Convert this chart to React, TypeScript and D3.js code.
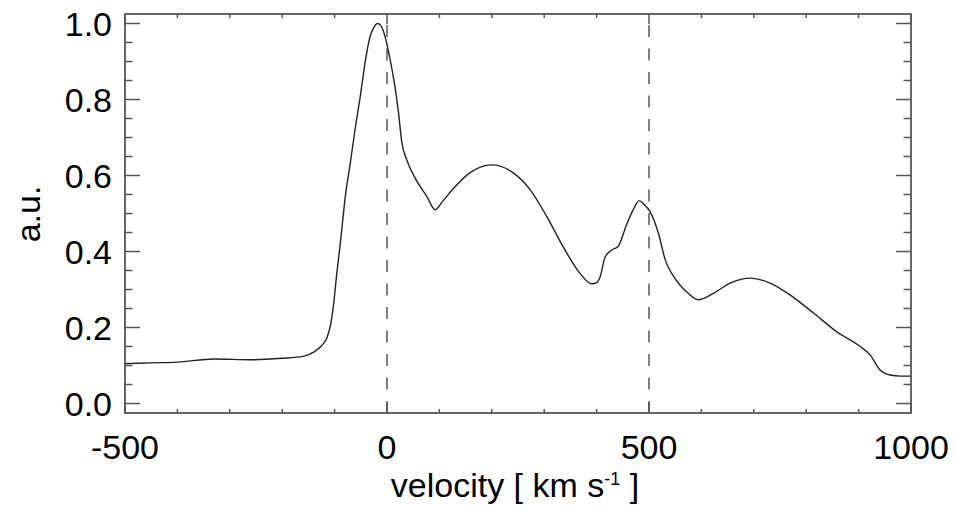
import React, {useEffect, useRef} from "react";
import * as d3 from 'd3';

// velocity (km/s) and normalised flux
const velocity = [
    -500, -450, -400, -330, -260, -200, -160, -140, -125, -115, -108, -102, -96, -90, -85, -80,
    -70, -61, -51, -42, -32, -25, -18, -12, -4, 6, 15, 22, 28, 38, 53, 76, 92, 105, 125, 158,
    200, 241, 273, 305, 336, 368, 391, 400, 407, 416, 429, 441, 457, 470, 481, 490, 502, 518,
    531, 543, 559, 575, 594, 623, 655, 693, 731, 769, 814, 858, 903, 922, 941, 960, 980, 1000
];
const flux = [
    0.105, 0.107, 0.109, 0.117, 0.115, 0.119, 0.124, 0.135, 0.152, 0.172, 0.205, 0.26, 0.34, 0.41, 0.475, 0.54,
    0.633, 0.721, 0.808, 0.896, 0.967, 0.99, 1.0, 0.995, 0.967, 0.905, 0.835, 0.765, 0.69, 0.64, 0.595, 0.545, 0.51, 0.53, 0.563, 0.607,
    0.628, 0.607, 0.563, 0.492, 0.413, 0.343, 0.315, 0.318, 0.334, 0.385, 0.404, 0.413, 0.47, 0.51, 0.534, 0.525, 0.505, 0.448,
    0.378, 0.343, 0.312, 0.29, 0.273, 0.29, 0.317, 0.33, 0.317, 0.286, 0.238, 0.189, 0.15, 0.128, 0.088, 0.075, 0.072, 0.072
];

const xMajor = [-500, 0, 500, 1000];
const yMajor = [0.0, 0.2, 0.4, 0.6, 0.8, 1.0];
const markers = [0, 500];

const App: React.FC = () => {
    const svgRef = useRef<SVGSVGElement | null>(null);

    useEffect(() => {
        if (!svgRef.current) return;
        const W = 955, H = 509;
        const left = 125, right = 911, top = 14, bottom = 413;
        const font = "'Liberation Sans', Arial, Helvetica, sans-serif";
        const frameColor = "#555";

        const svg = d3.select(svgRef.current)
            .attr("width", W)
            .attr("height", H);
        svg.selectAll("*").remove();

        const x = d3.scaleLinear().domain([-500, 1000]).range([left, right]);
        const y = d3.scaleLinear().domain([-0.025, 1.025]).range([bottom, top]);

        // minor / major ticks
        const xMinor = d3.range(-500, 1001, 100).filter(v => !xMajor.includes(v));
        const yMinor = d3.range(0, 21).map(i => i * 0.05).filter(v => Math.round(v * 100) % 20 !== 0);

        const ticks = svg.append("g").attr("stroke", frameColor).attr("stroke-width", 1.5);
        const xt = (vals: number[], len: number) => {
            ticks.selectAll(null).data(vals).enter().append("line")
                .attr("x1", d => x(d)).attr("x2", d => x(d))
                .attr("y1", bottom).attr("y2", bottom - len);
            ticks.selectAll(null).data(vals).enter().append("line")
                .attr("x1", d => x(d)).attr("x2", d => x(d))
                .attr("y1", top).attr("y2", top + len);
        };
        const yt = (vals: number[], len: number) => {
            ticks.selectAll(null).data(vals).enter().append("line")
                .attr("y1", d => y(d)).attr("y2", d => y(d))
                .attr("x1", left).attr("x2", left + len);
            ticks.selectAll(null).data(vals).enter().append("line")
                .attr("y1", d => y(d)).attr("y2", d => y(d))
                .attr("x1", right).attr("x2", right - len);
        };
        xt(xMajor, 10);
        xt(xMinor, 4);
        yt(yMajor, 15);
        yt(yMinor, 7.5);

        // dashed reference lines
        svg.append("g").selectAll("line").data(markers).enter().append("line")
            .attr("x1", d => x(d)).attr("x2", d => x(d))
            .attr("y1", bottom).attr("y2", top)
            .attr("stroke", "#555")
            .attr("stroke-width", 1.5)
            .attr("stroke-dasharray", "12,11.5");

        // profile
        const pts = velocity.map((v, i) => [v, flux[i]] as [number, number]);
        const line = d3.line<[number, number]>()
            .x(d => x(d[0]))
            .y(d => y(d[1]))
            .curve(d3.curveMonotoneX);
        svg.append("path")
            .datum(pts)
            .attr("d", line)
            .attr("fill", "none")
            .attr("stroke", "#222")
            .attr("stroke-width", 1.4);

        // frame
        svg.append("rect")
            .attr("x", left).attr("y", top)
            .attr("width", right - left).attr("height", bottom - top)
            .attr("fill", "none")
            .attr("stroke", frameColor)
            .attr("stroke-width", 1.8);

        // tick labels
        svg.append("g").selectAll("text").data(xMajor).enter().append("text")
            .attr("x", d => x(d))
            .attr("y", 459)
            .attr("text-anchor", "middle")
            .style("font-family", font)
            .style("font-size", "34px")
            .text(d => String(d));

        svg.append("g").selectAll("text").data(yMajor).enter().append("text")
            .attr("x", 112)
            .attr("y", d => y(d) + 12)
            .attr("text-anchor", "end")
            .style("font-family", font)
            .style("font-size", "34px")
            .text(d => d.toFixed(1));

        // axis titles
        const title = svg.append("text")
            .attr("x", 515)
            .attr("y", 497)
            .attr("text-anchor", "middle")
            .style("font-family", font)
            .style("font-size", "34px")
            .attr("xml:space", "preserve");
        title.append("tspan").text("velocity [ km s");
        title.append("tspan").attr("dy", -12).style("font-size", "18px").text("-1");
        title.append("tspan").attr("dy", 12).text(" ]");

        svg.append("text")
            .attr("transform", "translate(40,214) rotate(-90)")
            .attr("text-anchor", "middle")
            .style("font-family", font)
            .style("font-size", "34px")
            .text("a.u.");
    }, []);

    return (
        <svg ref={svgRef} style={{position: "absolute", left: 0, top: 0, background: "#fff"}}></svg>
    );
}

export default App;
